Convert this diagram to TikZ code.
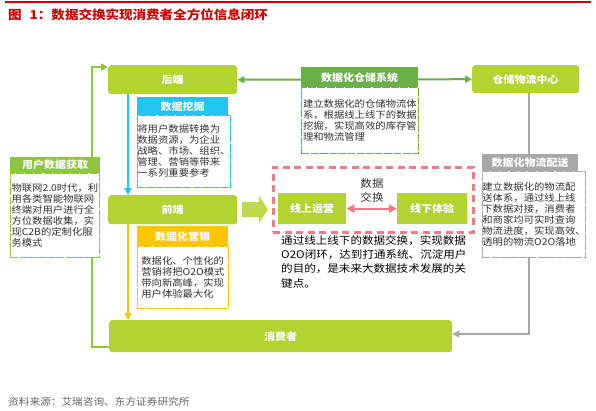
\documentclass[tikz,border=0pt]{standalone}
\usepackage{fontspec}
\setmainfont{Noto Sans CJK SC}[FakeStretch=1.1]
\usetikzlibrary{arrows.meta,calc}
\pgfdeclarelayer{bg}
\pgfsetlayers{bg,main}
\definecolor{limeC}{RGB}{179,211,52}
\definecolor{bigarrC}{RGB}{190,218,76}
\definecolor{userC}{RGB}{141,198,63}
\definecolor{storeC}{RGB}{106,176,72}
\definecolor{cyanC}{RGB}{34,197,242}
\definecolor{yellowC}{RGB}{255,198,0}
\definecolor{grayC}{RGB}{168,168,168}
\definecolor{pinkC}{RGB}{239,124,132}
\definecolor{titleC}{RGB}{204,0,0}
\definecolor{bodyC}{RGB}{50,50,50}
\definecolor{srcC}{RGB}{100,100,100}
\newcommand{\myfs}[2]{\fontsize{#1}{#2}\selectfont}
\tikzset{
  limebox/.style={fill=limeC, rounded corners=3pt, text=white, font=\bfseries\myfs{10}{12}, inner sep=0pt, anchor=north west},
  squarebox/.style={fill=limeC, text=white, font=\bfseries\myfs{10}{12}, inner sep=0pt, anchor=north west},
  hdr/.style={fill=#1, text=white, font=\bfseries\myfs{10}{12}, inner sep=0pt, anchor=north west},
  bodybox/.style={draw=#1, fill=white, dash pattern=on 8pt off 1.2pt, line width=0.8pt, align=left, anchor=north west, inner sep=0pt, font=\myfs{9.4}{11}, text=bodyC},
  conn/.style={line width=#1, arrows={-Triangle[length=7pt,width=7pt]}},
}
\begin{document}
\begin{tikzpicture}[x=1pt,y=-1pt]
\useasboundingbox (0,0) rectangle (596,410);
% title
\draw[titleC, line width=2pt] (5,1.5) -- (591,1.5);
\node[anchor=west, inner sep=0pt, text=titleC, font=\bfseries\myfs{12.3}{14}] (title) at (8,15) {图\hspace{8pt}1：数据交换实现消费者全方位信息闭环};
\node[anchor=west, inner sep=0pt, text=srcC, font=\myfs{9.7}{12}] (src) at (8,402) {资料来源：艾瑞咨询、东方证券研究所};

% main green boxes
\node[limebox, minimum width=129pt, minimum height=29pt] (hou) at (108,65) {后端};
\node[limebox, minimum width=129pt, minimum height=29pt] (qian) at (108,195) {前端};
\node[limebox, minimum width=343pt, minimum height=32pt] (xiao) at (109,320) {消费者};
\node[limebox, minimum width=107pt, minimum height=28pt] (cang) at (472,65) {仓储物流中心};
\node[squarebox, minimum width=68pt, minimum height=31pt] (xs) at (278,193) {线上运营};
\node[squarebox, minimum width=70pt, minimum height=31pt] (xx) at (397,193) {线下体验};

% header + body boxes
\node[hdr=cyanC, minimum width=91pt, minimum height=18pt] (wah) at (137,97) {数据挖掘};
\node[bodybox=cyanC, minimum width=91pt, minimum height=72pt] (wab) at (137,115)
  {将用户数据转换为\\数据资源，为企业\\战略、市场、组织、\\管理、营销等带来\\一系列重要参考};
\node[hdr=yellowC, minimum width=91pt, minimum height=20pt] (yxh) at (137,226) {数据化营销};
\node[bodybox=yellowC, minimum width=91pt, minimum height=62pt] (yxb) at (137,246)
  {数据化、个性化的\\营销将把O2O模式\\带向新高峰，实现\\用户体验最大化};
\node[hdr=userC, minimum width=90pt, minimum height=16pt] (yhh) at (10,157) {用户数据获取};
\node[bodybox=userC, minimum width=89pt, minimum height=84pt] (yhb) at (10,173)
  {物联网2.0时代，利\\用各类智能物联网\\终端对用户进行全\\方位数据收集，实\\现C2B的定制化服\\务模式};
\node[hdr=storeC, minimum width=117pt, minimum height=20pt] (cch) at (301,67) {数据化仓储系统};
\node[bodybox=storeC, minimum width=117pt, minimum height=66pt] (ccb) at (301,87)
  {建立数据化的仓储物流体\\系，根据线上线下的数据\\挖掘，实现高效的库存管\\理和物流管理};
\node[hdr=grayC, minimum width=96pt, minimum height=17pt] (wlh) at (482,154) {数据化物流配送};
\node[bodybox=grayC, minimum width=96pt, minimum height=86pt] (wlb) at (482,171)
  {建立数据化的物流配\\送体系，通过线上线\\下数据对接，消费者\\和商家均可实时查询\\物流进度，实现高效、\\透明的物流O2O落地};

% pink dashed frame and its contents
\node[draw=pinkC, line width=2.5pt, dash pattern=on 7pt off 4.5pt, anchor=north west, minimum width=200pt, minimum height=65pt, inner sep=0pt] (pk) at (272,166) {};
\node[align=center, inner sep=0pt, text=bodyC, font=\myfs{10.5}{14}] (jh) at (372,191) {数据\\交换};
\node[anchor=north west, align=left, inner sep=0pt, text=black, font=\myfs{10.5}{14.3}] (desc) at (281,235)
  {通过线上线下的数据交换，实现数据\\O2O闭环，达到打通系统、沉淀用户\\的目的，是未来大数据技术发展的关\\键点。};
\draw[pinkC, line width=2pt, arrows={Triangle[length=8pt,width=8pt]-Triangle[length=8pt,width=8pt]}] (xs.east) -- (xx.west);

% big block arrow
\fill[bigarrC] (242,202) -- (259,202) -- (259,196) -- (268,209.5) -- (259,223) -- (259,217) -- (242,217) -- cycle;

% connectors behind boxes
\coordinate (lt) at (92,67);
\coordinate (lb) at (92,347);
\coordinate (cx) at (128,0);
\coordinate (g1) at (529,334);
\begin{pgfonlayer}{bg}
  \draw[userC, conn=2.5pt] (xiao.west |- lb) -- (lb) -- (lt) -- (hou.west |- lt);
  \draw[storeC, line width=2pt, arrows={Triangle[length=7pt,width=7pt]-Triangle[length=7pt,width=7pt]}] (hou.east) -- (cang.west);
  \draw[grayC, conn=2.5pt] (cang.south -| g1) -- (g1) -- (xiao.east |- g1);
  \draw[cyanC, conn=2.5pt] (hou.south -| cx) -- (qian.north -| cx);
  \draw[yellowC, conn=2.5pt] (qian.south -| cx) -- (xiao.north -| cx);
\end{pgfonlayer}
\end{tikzpicture}
\end{document}
